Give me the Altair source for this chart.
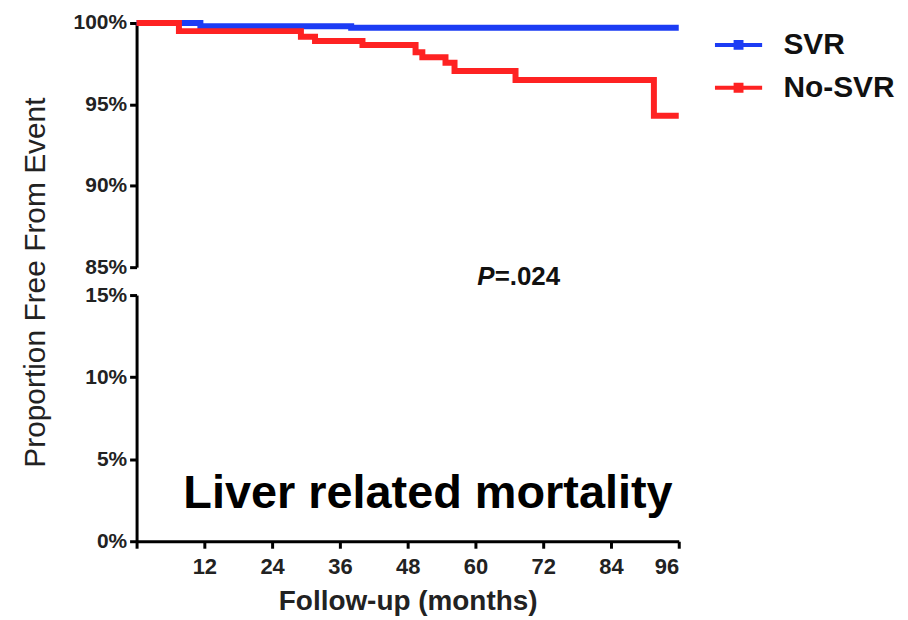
import altair as alt
import pandas as pd

# ---- data ----
svr_months = [0, 11.3, 38.0, 96]
svr_pct = [100, 99.8, 99.7, 99.7]
nosvr_months = [0, 7.5, 29.1, 31.6, 40.0, 49.4, 50.6, 54.7, 56.3, 67.1, 91.6, 96]
nosvr_pct = [100, 99.5, 99.15, 98.9, 98.65, 98.2, 97.9, 97.55, 97.05, 96.5, 94.3, 94.3]

groups = ["SVR", "No-SVR"]
colors = ["#1c3cf4", "#fe2222"]
x_ticks = [0, 12, 24, 36, 48, 60, 72, 84, 96]
top_ticks = [85, 90, 95, 100]
bottom_ticks = [0, 5, 10, 15]
p_label = ["P", "=.024"]
panel_label = ["Liver related mortality"]

svr = pd.DataFrame({"month": svr_months, "pct": svr_pct, "group": "SVR"})
nosvr = pd.DataFrame({"month": nosvr_months, "pct": nosvr_pct, "group": "No-SVR"})

FONT = "Liberation Sans"
W = 544

xscale = alt.Scale(domain=[0, 96], nice=False, zero=False)
color = alt.Color(
    "group:N",
    scale=alt.Scale(domain=groups, range=colors),
    sort=groups,
    legend=alt.Legend(
        title=None,
        orient="none",
        legendX=589,
        legendY=7,
        symbolType="M-2,0H2M-0.25,-0.25H0.25V0.25H-0.25Z",
        symbolSize=560,
        symbolStrokeWidth=4,
        labelFont=FONT,
        labelFontSize=30,
        labelFontWeight="bold",
        labelColor="#111",
        labelOffset=30,
        rowPadding=13,
    ),
)

ytop = alt.Y(
    "pct:Q",
    scale=alt.Scale(domain=[85, 100], nice=False, zero=False),
    axis=alt.Axis(values=top_ticks, labelExpr="datum.value + '%'", title=None),
)
xtop = alt.X("month:Q", scale=xscale, axis=None)

blue_line = alt.Chart(svr).mark_line(interpolate="step-after", strokeWidth=6).encode(
    x=xtop, y=ytop, color=color
)
red_line = alt.Chart(nosvr).mark_line(interpolate="step-after", strokeWidth=6).encode(
    x=xtop, y=ytop, color=color
)

p_df = pd.DataFrame({"month": [63.4, 63.4], "t": p_label})
p_italic = alt.Chart(p_df.iloc[[0]]).mark_text(
    font=FONT, fontSize=26, fontStyle="italic", fontWeight="bold", align="right",
    baseline="middle", color="#111",
).encode(x=alt.X("month:Q", scale=xscale, axis=None), y=alt.value(255), text="t:N")
p_rest = alt.Chart(p_df.iloc[[1]]).mark_text(
    font=FONT, fontSize=26, fontWeight="bold", align="left", baseline="middle",
    color="#111",
).encode(x=alt.X("month:Q", scale=xscale, axis=None), y=alt.value(255), text="t:N")

top = alt.layer(blue_line, red_line, p_italic, p_rest).properties(width=W, height=245)

lab_df = pd.DataFrame({"month": [51.6], "pct": [2.9], "t": panel_label})
bottom = alt.Chart(lab_df).mark_text(
    font=FONT, fontSize=47, fontWeight="bold", align="center", baseline="middle",
    color="#000",
).encode(
    x=alt.X(
        "month:Q",
        scale=xscale,
        axis=alt.Axis(
            values=x_ticks,
            labelExpr="datum.value == 0 ? '' : datum.value",
            labelFontSize=22,
            labelPadding=8,
            title="Follow-up (months)",
            titleFontSize=28,
            titlePadding=10,
        ),
    ),
    y=alt.Y(
        "pct:Q",
        scale=alt.Scale(domain=[0, 15], nice=False, zero=False),
        axis=alt.Axis(
            values=bottom_ticks,
            labelExpr="datum.value + '%'",
            title="Proportion Free From Event",
            titleX=-101,
            titleY=-13,
            titleBaseline="middle",
            titleAlign="center",
            titleFontSize=30,
            titleFontWeight="normal",
        ),
    ),
    text="t:N",
).properties(width=W, height=247)

chart = (
    alt.vconcat(top, bottom, spacing=28, bounds="flush")
    .properties(padding={"left": 12, "top": 2, "right": 5, "bottom": 5})
    .configure_view(stroke=None)
    .configure_axis(
        grid=False,
        domainColor="#000",
        domainWidth=3,
        tickColor="#000",
        tickWidth=3,
        tickSize=7,
        labelFont=FONT,
        labelFontSize=21,
        labelFontWeight="bold",
        labelColor="#222",
        labelPadding=3,
        titleFont=FONT,
        titleFontWeight="bold",
        titleColor="#222",
    )
)

chart.save("out.html", embed_options={"renderer": "svg", "actions": False})
